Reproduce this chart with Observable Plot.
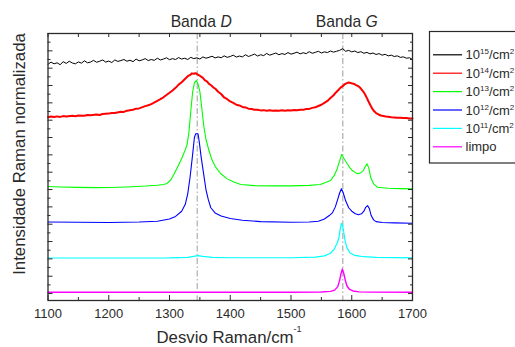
<!DOCTYPE html>
<html><head><meta charset="utf-8">
<script src="https://cdn.jsdelivr.net/npm/d3@7"></script>
<script src="https://cdn.jsdelivr.net/npm/@observablehq/plot@0.6"></script>
<style>html,body{margin:0;padding:0;background:#fff;overflow:hidden}</style>
</head><body><div id="chart"></div>
<script>
// ---- legend / series ----
const seriesLabels = ["10^15/cm^2", "10^14/cm^2", "10^13/cm^2", "10^12/cm^2", "10^11/cm^2", "limpo"];
const seriesColors = ["#000000", "#ff0000", "#00ff00", "#0000ff", "#00ffff", "#ff00ff"];
const seriesWidths = [1, 2, 1.1, 1.1, 1.2, 1.4];

// ---- band markers ----
const bandNames = ["D", "G"];
const bandPos = [1345.6, 1585.3];

// ---- ticks ----
const xMajor = [1100, 1200, 1300, 1400, 1500, 1600, 1700];
const xMinor = [1150, 1250, 1350, 1450, 1550, 1650];
const yMajor = [0, 2, 4, 6, 8, 10, 12, 14, 16, 18, 20, 22, 24, 26, 28, 30];
const yMinor = [1, 3, 5, 7, 9, 11, 13, 15, 17, 19, 21, 23, 25, 27, 29];

// ---- 10^15 (black) ----
const wBlack = [1100,1105,1110,1115,1120,1125,1130,1135,1140,1145,1150,1155,1160,1165,1170,1175,1180,1185,1190,1195,
1200,1205,1210,1215,1220,1225,1230,1235,1240,1245,1250,1255,1260,1265,1270,1275,1280,1285,1290,1295,
1300,1305,1310,1315,1320,1325,1330,1335,1340,1345,1350,1355,1360,1365,1370,1375,1380,1385,1390,1395,
1400,1405,1410,1415,1420,1425,1430,1435,1440,1445,1450,1455,1460,1465,1470,1475,1480,1485,1490,1495,
1500,1505,1510,1515,1520,1525,1530,1535,1540,1545,1550,1555,1560,1565,1570,1575,1580,1585,1590,1595,
1600,1605,1610,1615,1620,1625,1630,1635,1640,1645,1650,1655,1660,1665,1670,1675,1680,1685,1690,1695,1700];
const iBlack = [26.45,26.7,26.5,26.62,26.4,26.75,26.55,26.8,26.6,26.5,26.72,26.58,26.85,26.62,26.7,26.9,26.68,26.8,26.95,26.7,
26.82,26.65,26.95,26.78,26.88,27.0,26.8,26.92,26.75,27.05,26.85,26.95,27.1,26.88,27.0,26.9,27.15,26.95,27.05,27.2,
26.98,27.1,27.0,27.22,27.05,27.15,27.0,27.25,27.1,27.2,27.05,27.3,27.15,27.25,27.38,27.18,27.3,27.2,27.42,27.25,
27.35,27.5,27.28,27.4,27.3,27.55,27.35,27.48,27.62,27.4,27.55,27.45,27.7,27.5,27.62,27.75,27.55,27.68,27.58,27.8,
27.62,27.72,27.85,27.65,27.78,27.68,27.9,27.72,27.82,27.95,27.75,27.88,27.8,27.98,27.85,27.95,28.05,28.25,27.95,28.05,
27.88,27.98,27.8,27.9,27.72,27.82,27.65,27.75,27.58,27.68,27.5,27.6,27.42,27.5,27.35,27.42,27.25,27.3,27.15,27.2,27.0];

// ---- 10^14 (red) ----
const wRed = [1100,1105,1110,1115,1120,1125,1130,1140,1145,1150,1160,1165,1170,1180,1185,1190,1200,1205,1210,1220,1225,1230,1240,1245,1250,1260,1265,1270,1280,1285,1290,1300,1305,1310,1315,1320,1325,1328,1331,1334,1337,1340,1343,1346,1349,1352,1355,1358,1362,1365,1369,1372,1376,1380,1385,1390,1395,1400,1405,1410,1415,1420,1425,1430,1435,1440,1445,1450,1455,1460,1465,1470,1475,1480,1485,1490,1495,1500,1505,1510,1515,1520,1525,1530,1535,1540,1545,1550,1555,1560,1565,1570,1574,1578,1582,1585,1588,1592,1595,1598,1601,1604,1607,1610,1613,1616,1619,1622,1625,1628,1631,1634,1637,1640,1644,1648,1652,1656,1660,1665,1670,1675,1680,1685,1690,1695,1700];
const iRed = [20.34,20.42,20.36,20.44,20.38,20.47,20.43,20.5,20.45,20.53,20.52,20.6,20.57,20.66,20.6,20.72,20.76,20.84,20.82,20.97,20.95,21.1,21.2,21.33,21.36,21.62,21.72,21.86,22.24,22.42,22.64,23.17,23.42,23.73,24.1,24.38,24.72,24.92,25.12,25.22,25.4,25.35,25.42,25.28,25.18,25.02,24.88,24.62,24.45,24.18,24.0,23.78,23.6,23.28,23.02,22.62,22.42,22.16,22.0,21.78,21.7,21.53,21.47,21.33,21.3,21.2,21.2,21.13,21.16,21.1,21.14,21.08,21.13,21.1,21.15,21.08,21.14,21.12,21.17,21.14,21.2,21.19,21.28,21.3,21.42,21.48,21.64,21.78,22.0,22.22,22.55,22.88,23.2,23.48,23.78,23.92,24.12,24.28,24.35,24.3,24.22,24.18,24.05,23.96,23.8,23.56,23.3,22.96,22.55,22.1,21.7,21.3,21.02,20.82,20.66,20.54,20.48,20.42,20.4,20.34,20.32,20.27,20.28,20.24,20.25,20.2,20.2];

// ---- 10^13 (green) ----
const wGreen = [1100,1120,1150,1180,1200,1230,1260,1280,1290,1296,1302,1308,1314,1321,1326,1329,1332,1335,1338,1341,1344,1347,1350,1353,1356.5,1360,1365,1370,1376,1384,1395,1405,1417,1440,1470,1500,1530,1548,1557,1565,1571,1576,1580,1583.5,1587,1592.5,1597,1601,1606,1610,1614,1619,1622,1625,1628,1631,1636,1642,1660,1680,1700];
const iGreen = [12.35,12.3,12.25,12.22,12.24,12.3,12.4,12.5,12.58,12.7,13.1,13.85,14.7,15.73,16.6,17.2,18.6,21.0,23.2,24.3,24.58,24.2,23.3,21.5,19.3,17.8,16.5,15.4,14.58,13.85,13.23,12.9,12.58,12.45,12.42,12.42,12.48,12.58,12.8,13.04,13.6,14.38,15.3,16.04,15.6,14.97,14.5,14.19,13.95,13.81,13.9,14.19,14.6,14.97,14.5,13.42,12.66,12.27,12.15,12.1,12.08];

// ---- 10^12 (blue) ----
const wBlue = [1100,1150,1200,1250,1280,1300,1310,1320,1326,1330,1334,1338,1341,1343,1347,1349,1352,1356,1360,1364,1368,1375,1385,1400,1420,1450,1500,1530,1545,1555,1563,1568,1573,1577,1580,1583,1586,1590,1595,1600,1606,1611,1616,1620,1623,1626,1629,1632,1636,1640,1650,1670,1700];
const iBlue = [8.25,8.22,8.2,8.25,8.35,8.6,8.9,9.5,10.3,11.5,13.5,16.0,18.0,18.43,18.43,17.5,15.8,13.9,12.0,10.8,9.9,9.3,8.95,8.65,8.45,8.3,8.22,8.25,8.35,8.6,9.0,9.3,10.0,10.9,11.6,12.08,11.6,10.7,9.9,9.5,9.2,9.08,9.2,9.5,9.95,10.15,9.8,9.0,8.5,8.3,8.2,8.15,8.11];

// ---- 10^11 (cyan) ----
const wCyan = [1100,1200,1300,1330,1340,1347,1355,1370,1400,1500,1540,1555,1565,1571,1576,1579,1581,1583,1585,1587,1589,1592,1597,1605,1620,1640,1700];
const iCyan = [4.1,4.1,4.12,4.18,4.3,4.38,4.3,4.18,4.13,4.13,4.2,4.35,4.65,5.1,5.8,6.5,7.4,8.1,7.8,7.0,6.1,5.3,4.7,4.4,4.25,4.18,4.12];

// ---- limpo (magenta) ----
const wMag = [1100,1200,1300,1400,1500,1550,1565,1572,1577,1580,1582,1584.5,1587,1589.5,1592,1596,1602,1612,1630,1700];
const iMag = [0.15,0.16,0.15,0.15,0.16,0.18,0.25,0.4,0.8,1.5,2.2,2.85,2.3,1.5,0.9,0.5,0.3,0.2,0.17,0.15];

const wave = [wBlack, wRed, wGreen, wBlue, wCyan, wMag];
const inten = [iBlack, iRed, iGreen, iBlue, iCyan, iMag];

const rows = [];
wave.forEach((ws, s) => ws.forEach((w, j) => rows.push({s, w, v: inten[s][j]})));

const FONT = '"Liberation Sans", Arial, Helvetica, sans-serif';
const INK = "#2a2a2a";
const noText = () => "";

const plot = Plot.plot({
  width: 515, height: 347,
  marginLeft: 47.5, marginRight: 103, marginTop: 33, marginBottom: 47,
  style: {fontFamily: FONT, fontSize: "13px", background: "#fff", color: INK},
  x: {domain: [1100, 1700]},
  y: {domain: [-0.8, 30]},
  marks: [
    Plot.ruleX(bandPos, {stroke: "#a6a6a6", strokeWidth: 1.1, strokeDasharray: "6,2.5,1.5,2.5"}),
    ...seriesLabels.map((lab, s) => Plot.line(rows.filter(r => r.s === s), {
      x: "w", y: "v", stroke: seriesColors[s], strokeWidth: seriesWidths[s], curve: "linear"
    })),
    Plot.axisX({ticks: xMajor, tickSize: 0, tickPadding: 8, label: null, tickFormat: d => String(d), fill: INK}),
    Plot.axisX({ticks: xMajor, tickSize: -5, tickFormat: noText, label: null, stroke: INK}),
    Plot.axisX({ticks: xMinor, tickSize: -3, tickFormat: noText, label: null, stroke: INK}),
    Plot.axisX({anchor: "top", ticks: xMajor.concat(xMinor), tickSize: -3, tickFormat: noText, label: null, stroke: INK}),
    Plot.axisY({ticks: yMajor, tickSize: -5, tickFormat: noText, label: null, stroke: INK}),
    Plot.axisY({ticks: yMinor, tickSize: -3, tickFormat: noText, label: null, stroke: INK}),
    Plot.axisY({anchor: "right", ticks: yMajor, tickSize: -5, tickFormat: noText, label: null, stroke: INK}),
    Plot.axisY({anchor: "right", ticks: yMinor, tickSize: -3, tickFormat: noText, label: null, stroke: INK}),
    Plot.frame({stroke: INK, strokeWidth: 1.3})
  ]
});

document.getElementById("chart").appendChild(plot);
const svg = d3.select(plot);
const xs = plot.scale("x");

// band titles
bandNames.forEach((b, i) => {
  const t = svg.append("text")
    .attr("x", xs.apply(bandPos[i]) + 4.5).attr("y", 27.3)
    .attr("text-anchor", "middle").attr("font-family", FONT).attr("font-size", 15.7).attr("fill", INK);
  t.append("tspan").text("Banda ");
  t.append("tspan").attr("font-style", "italic").text(b);
});

// axis titles
const xl = svg.append("text").attr("x", 229).attr("y", 343).attr("text-anchor", "middle")
  .attr("font-family", FONT).attr("font-size", 16.8).attr("fill", INK);
xl.append("tspan").text("Desvio Raman/cm");
xl.append("tspan").attr("font-size", 9).attr("dy", -11.5).text("-1");

svg.append("text").attr("transform", "translate(25,154) rotate(-90)").attr("text-anchor", "middle")
  .attr("font-family", FONT).attr("font-size", 16.8).attr("fill", INK).text("Intensidade Raman normalizada");

// legend
const lg = svg.append("g");
lg.append("rect").attr("x", 429.5).attr("y", 31.5).attr("width", 120).attr("height", 131.5)
  .attr("fill", "#fff").attr("stroke", INK).attr("stroke-width", 1.2);
seriesLabels.forEach((lab, i) => {
  const yy = 54.8 + 18.4 * i;
  lg.append("line").attr("x1", 433).attr("x2", 462).attr("y1", yy).attr("y2", yy)
    .attr("stroke", seriesColors[i]).attr("stroke-width", 1.2);
  const t = lg.append("text").attr("x", 465.5).attr("y", yy + 4.6).attr("text-anchor", "start")
    .attr("font-family", FONT).attr("font-size", 13).attr("fill", INK);
  const parts = lab.split(/\^(\d+)/);
  let raised = false;
  parts.forEach((p, k) => {
    if (p === "") return;
    const sp = t.append("tspan").text(p);
    if (k % 2 === 1) { sp.attr("font-size", 8).attr("dy", raised ? 0 : -5); raised = true; }
    else { if (raised) { sp.attr("dy", 5); raised = false; } }
  });
});
</script>
</body></html>
